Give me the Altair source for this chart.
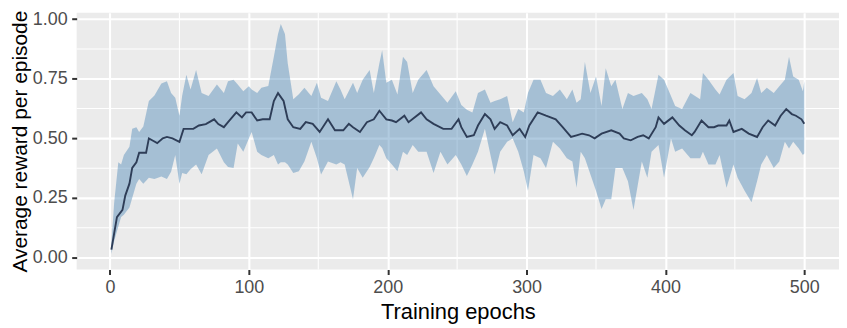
import altair as alt
import pandas as pd

# Mean reward line (epoch, value)
line_epochs = [1, 5, 9, 11, 14, 16, 19, 21, 24, 26, 28, 31, 34, 38, 41, 45, 50, 53, 57, 60,
               64, 69, 75, 78, 82, 85, 91, 95, 98, 102, 106, 110, 115, 118, 121, 125, 128, 132, 137, 141,
               146, 151, 157, 162, 168, 172, 175, 180, 185, 190, 194, 199, 203, 206, 212, 215, 224, 228, 233, 240,
               246, 251, 253, 257, 262, 265, 270, 274, 277, 281, 286, 290, 295, 299, 302, 308, 314, 321, 326, 332,
               336, 340, 345, 349, 354, 361, 367, 370, 375, 380, 384, 388, 393, 395, 399, 405, 410, 414, 419, 421,
               426, 431, 435, 438, 444, 446, 449, 455, 460, 466, 470, 474, 479, 483, 487, 491, 494, 498, 500]
line_values = [0.033, 0.17, 0.20, 0.26, 0.31, 0.376, 0.40, 0.44, 0.44, 0.44, 0.50, 0.49, 0.48, 0.50, 0.506, 0.50, 0.485, 0.54, 0.54, 0.54,
               0.554, 0.56, 0.58, 0.56, 0.547, 0.568, 0.609, 0.588, 0.609, 0.609, 0.575, 0.58, 0.58, 0.657, 0.69, 0.657, 0.58, 0.547, 0.54, 0.568,
               0.561, 0.527, 0.58, 0.534, 0.534, 0.561, 0.547, 0.527, 0.568, 0.58, 0.616, 0.58, 0.575, 0.568, 0.595, 0.568, 0.609, 0.58, 0.561, 0.54,
               0.54, 0.58, 0.547, 0.506, 0.513, 0.554, 0.602, 0.58, 0.54, 0.568, 0.554, 0.513, 0.54, 0.506, 0.554, 0.609, 0.595, 0.58, 0.547, 0.506,
               0.513, 0.52, 0.513, 0.50, 0.52, 0.534, 0.52, 0.50, 0.492, 0.506, 0.513, 0.50, 0.547, 0.588, 0.561, 0.588, 0.554, 0.534, 0.513, 0.527,
               0.575, 0.547, 0.547, 0.554, 0.554, 0.575, 0.527, 0.54, 0.52, 0.506, 0.547, 0.575, 0.554, 0.595, 0.623, 0.602, 0.595, 0.58, 0.561]

# Ribbon (epoch, lower, upper)
band_epochs = [1, 3, 6, 8, 10, 14, 16, 19, 21, 24, 28, 32, 37, 41, 44, 47, 50, 52, 55, 58,
               62, 66, 71, 77, 82, 85, 89, 92, 96, 100, 102, 106, 109, 114, 118, 121, 123, 126, 128, 132,
               136, 140, 145, 149, 152, 157, 163, 166, 169, 175, 178, 182, 187, 190, 194, 196, 199, 203, 207, 211,
               214, 218, 222, 228, 233, 238, 243, 249, 253, 257, 261, 265, 270, 274, 277, 281, 286, 290, 294, 298,
               301, 305, 310, 314, 319, 324, 329, 333, 336, 339, 342, 346, 350, 354, 357, 361, 364, 369, 373, 377,
               383, 387, 390, 395, 399, 404, 407, 412, 418, 425, 427, 431, 436, 439, 444, 449, 452, 457, 462, 466,
               469, 473, 478, 482, 486, 489, 492, 496, 499, 500]
band_lower = [0.015, 0.07, 0.13, 0.17, 0.18, 0.21, 0.25, 0.31, 0.33, 0.31, 0.335, 0.33, 0.34, 0.33, 0.36, 0.43, 0.31, 0.355, 0.35, 0.37,
              0.39, 0.35, 0.43, 0.458, 0.40, 0.38, 0.376, 0.479, 0.444, 0.50, 0.527, 0.444, 0.43, 0.417, 0.43, 0.39, 0.40, 0.40, 0.39, 0.355,
              0.362, 0.403, 0.486, 0.417, 0.348, 0.403, 0.39, 0.40, 0.39, 0.245, 0.376, 0.335, 0.38, 0.417, 0.472, 0.46, 0.417, 0.39, 0.362, 0.444,
              0.43, 0.472, 0.444, 0.444, 0.355, 0.444, 0.39, 0.43, 0.39, 0.342, 0.39, 0.444, 0.54, 0.43, 0.348, 0.444, 0.486, 0.50, 0.444, 0.362,
              0.28, 0.43, 0.417, 0.376, 0.486, 0.458, 0.417, 0.403, 0.293, 0.444, 0.417, 0.348, 0.28, 0.204, 0.245, 0.245, 0.376, 0.376, 0.32, 0.20,
              0.403, 0.335, 0.444, 0.472, 0.335, 0.50, 0.444, 0.458, 0.417, 0.417, 0.444, 0.39, 0.39, 0.43, 0.293, 0.39, 0.335, 0.28, 0.232, 0.32,
              0.39, 0.43, 0.376, 0.403, 0.486, 0.458, 0.486, 0.458, 0.43, 0.437]
band_upper = [0.06, 0.23, 0.40, 0.39, 0.43, 0.465, 0.54, 0.547, 0.527, 0.55, 0.657, 0.68, 0.73, 0.74, 0.69, 0.67, 0.595, 0.68, 0.767, 0.705,
              0.787, 0.69, 0.678, 0.726, 0.69, 0.74, 0.746, 0.726, 0.698, 0.719, 0.705, 0.69, 0.712, 0.72, 0.842, 0.938, 0.98, 0.938, 0.815, 0.664,
              0.685, 0.712, 0.678, 0.733, 0.671, 0.657, 0.74, 0.705, 0.664, 0.733, 0.69, 0.746, 0.787, 0.69, 0.815, 0.87, 0.733, 0.746, 0.684, 0.842,
              0.82, 0.69, 0.746, 0.787, 0.719, 0.684, 0.65, 0.698, 0.64, 0.62, 0.609, 0.69, 0.705, 0.65, 0.657, 0.664, 0.678, 0.568, 0.623, 0.609,
              0.69, 0.746, 0.746, 0.69, 0.678, 0.705, 0.664, 0.705, 0.65, 0.664, 0.82, 0.69, 0.76, 0.636, 0.794, 0.719, 0.746, 0.623, 0.69, 0.678,
              0.69, 0.664, 0.623, 0.767, 0.746, 0.678, 0.636, 0.623, 0.69, 0.664, 0.774, 0.746, 0.705, 0.684, 0.746, 0.774, 0.678, 0.664, 0.69, 0.753,
              0.69, 0.712, 0.69, 0.719, 0.746, 0.842, 0.76, 0.746, 0.698, 0.74]

x_ticks = [0, 100, 200, 300, 400, 500]
y_ticks = [0.0, 0.25, 0.5, 0.75, 1.0]
x_minor = [50, 150, 250, 350, 450]
y_minor = [0.125, 0.375, 0.625, 0.875]

line_df = pd.DataFrame({"epoch": line_epochs, "reward": line_values})
band_df = pd.DataFrame({"epoch": band_epochs, "lo": band_lower, "hi": band_upper})

xs = alt.Scale(domain=[-24, 525], nice=False, zero=False)
ys = alt.Scale(domain=[-0.0501, 1.0271], nice=False, zero=False)

FONT = "Liberation Sans"

xminor = alt.Chart(pd.DataFrame({"x": x_minor})).mark_rule(color="white", strokeWidth=1.05).encode(
    x=alt.X("x:Q", scale=xs))
yminor = alt.Chart(pd.DataFrame({"y": y_minor})).mark_rule(color="white", strokeWidth=1.05).encode(
    y=alt.Y("y:Q", scale=ys))

band = alt.Chart(band_df).mark_area(color="#4682b4", opacity=0.42, interpolate="linear").encode(
    x=alt.X("epoch:Q", scale=xs,
            axis=alt.Axis(values=x_ticks, title="Training epochs", grid=True)),
    y=alt.Y("lo:Q", scale=ys,
            axis=alt.Axis(values=y_ticks, format=".2f", title="Average reward per episode", grid=True)),
    y2="hi:Q",
)

line = alt.Chart(line_df).mark_line(color="#2e3d57", strokeWidth=1.9).encode(
    x=alt.X("epoch:Q", scale=xs),
    y=alt.Y("reward:Q", scale=ys),
)

chart = alt.layer(xminor, yminor, band, line).properties(
    width=766, height=258,
    autosize=alt.AutoSizeParams(type="none"),
    padding={"left": 69, "top": 4, "right": 0, "bottom": 57},
).configure_view(
    fill="#ebebeb", strokeWidth=0
).configure_axis(
    domain=False,
    gridColor="white", gridWidth=2.1,
    tickColor="#333333", tickSize=5, tickWidth=2,
    labelColor="#4d4d4d", labelFont=FONT, labelFontSize=18,
    titleColor="black", titleFont=FONT, titleFontWeight="normal",
    titleBaseline="alphabetic",
).configure_axisX(
    labelBaseline="alphabetic", labelPadding=18,
    titleY=49.3, titleFontSize=22,
).configure_axisY(
    labelPadding=4.5,
    titleX=-50, titleFontSize=21,
)

chart.save("out.html", embed_options={"renderer": "svg", "actions": False})
